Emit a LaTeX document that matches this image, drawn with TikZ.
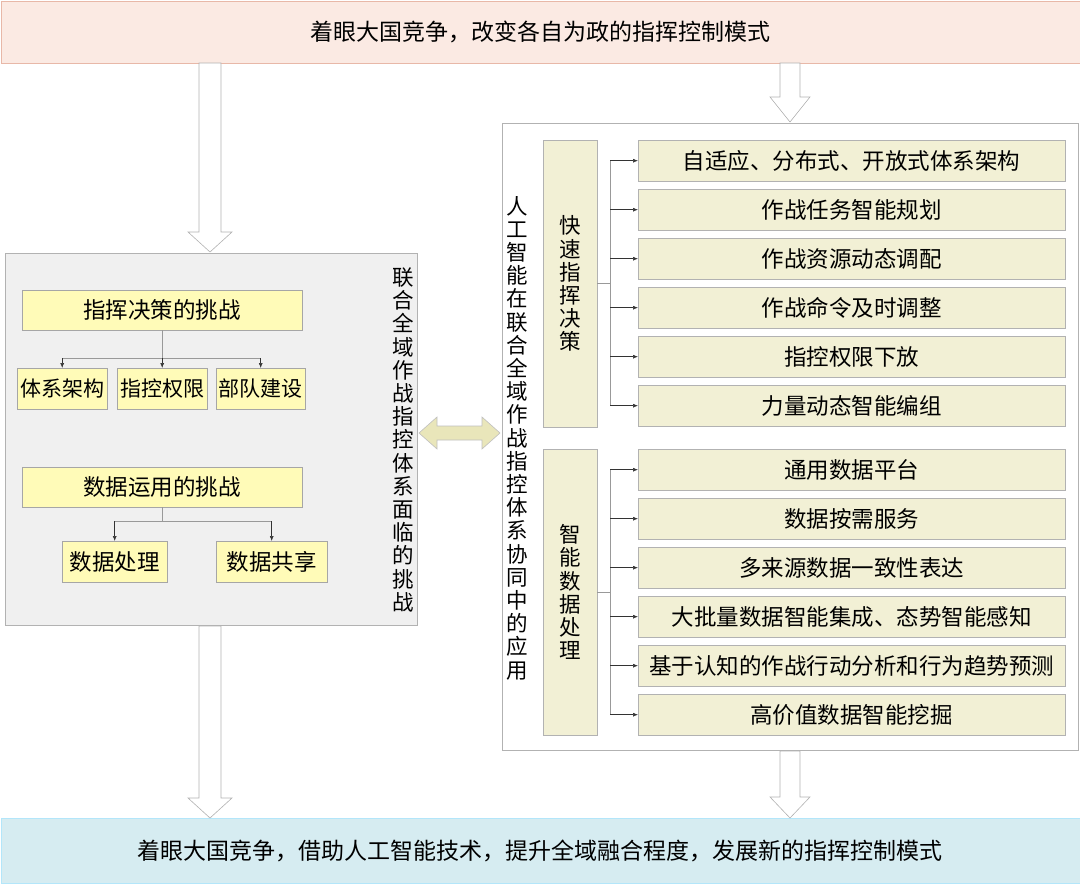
\documentclass[tikz,border=0pt]{standalone}
\usepackage{fontspec}
\setmainfont{Noto Sans CJK SC}
\usetikzlibrary{arrows.meta}
\definecolor{peach}{HTML}{FBEAE3}
\definecolor{peachd}{HTML}{E8B8A8}
\definecolor{lblue}{HTML}{D6ECF1}
\begin{document}
\begin{tikzpicture}[x=1pt,y=-1pt,
  yb/.style={draw=gray!70,fill=yellow!28,font=\fontsize{22.5}{24}\selectfont},
  sb/.style={yb,font=\fontsize{21}{23}\selectfont},
  gb/.style={draw=gray!60,fill=olive!12,font=\fontsize{22.5}{24}\selectfont},
  vt/.style={align=center,font=\fontsize{21.5}{23.2}\selectfont,inner sep=0pt},
  ln/.style={draw=gray!80,line width=0.6pt},
  ar/.style={ln,-{Latex[length=5pt,width=4pt]},draw=black!80},
  hol/.style={draw=gray!60,fill=white,line width=0.6pt}]
\useasboundingbox (0,0) rectangle (1080,884);
% banners
\node[draw=peachd,fill=peach,minimum width=1079pt,minimum height=62pt,anchor=north west,inner sep=0pt,font=\fontsize{23}{25}\selectfont] (top) at (0.5,0.5) {着眼大国竞争，改变各自为政的指挥控制模式};
\node[draw=cyan!30,fill=lblue,minimum width=1079pt,minimum height=65pt,anchor=north west,inner sep=0pt,font=\fontsize{23}{25}\selectfont] (bot) at (0.5,818) {着眼大国竞争，借助人工智能技术，提升全域融合程度，发展新的指挥控制模式};
% hollow arrows
\draw[hol] (199,63)--(221,63)--(221,232)--(232,232)--(210,252)--(188,232)--(199,232)--cycle;
\draw[hol] (780,63)--(800,63)--(800,97)--(810,97)--(790,122)--(770,97)--(780,97)--cycle;
\draw[hol] (199,626)--(221,626)--(221,798)--(232,798)--(210,818)--(188,798)--(199,798)--cycle;
\draw[hol] (780,751)--(800,751)--(800,797)--(810,797)--(790,818)--(770,797)--(780,797)--cycle;
% left panel
\node[draw=gray!60,fill=gray!12,minimum width=412pt,minimum height=372pt,anchor=north west,inner sep=0pt] (lp) at (5,253) {};
\node[vt] (lt) at (403,440) {联\\合\\全\\域\\作\\战\\指\\控\\体\\系\\面\\临\\的\\挑\\战};
\node[yb,minimum width=280pt,minimum height=40pt,anchor=north west,inner sep=0pt] (c1) at (22,290) {指挥决策的挑战};
\node[sb,minimum width=90pt,minimum height=41pt,anchor=north west,inner sep=0pt] (a1) at (17,368) {体系架构};
\node[sb,minimum width=90pt,minimum height=41pt,anchor=north west,inner sep=0pt] (a2) at (117,368) {指控权限};
\node[sb,minimum width=89pt,minimum height=41pt,anchor=north west,inner sep=0pt] (a3) at (216,368) {部队建设};
\draw[ln] (c1.south) -- ++(0,28) coordinate (j1);
\draw[ln] (a1.north |- j1) -- (a3.north |- j1);
\foreach \n in {a1,a2,a3} \draw[ar] (\n.north |- j1) -- (\n.north);
\node[yb,minimum width=280pt,minimum height=40pt,anchor=north west,inner sep=0pt] (c2) at (22,467) {数据运用的挑战};
\node[yb,minimum width=105pt,minimum height=41pt,anchor=north west,inner sep=0pt] (b1) at (62,541) {数据处理};
\node[yb,minimum width=111pt,minimum height=41pt,anchor=north west,inner sep=0pt] (b2) at (216,541) {数据共享};
\draw[ln] (c2.south) -- ++(0,14) coordinate (j2);
\draw[ln] (b1.north |- j2) -- (b2.north |- j2);
\foreach \n in {b1,b2} \draw[ar] (\n.north |- j2) -- (\n.north);
% right panel
\node[draw=gray!60,fill=white,minimum width=576pt,minimum height=627pt,anchor=north west,inner sep=0pt] (rp) at (502,123) {};
\node[vt] (rt) at (517,438) {人\\工\\智\\能\\在\\联\\合\\全\\域\\作\\战\\指\\控\\体\\系\\协\\同\\中\\的\\应\\用};
% double arrow
\draw[draw=gray!50,fill=olive!20,line width=0.6pt] (419,433)--(437,417)--(437,426)--(482,426)--(482,417)--(500,433)--(482,449)--(482,440)--(437,440)--(437,449)--cycle;
\node[gb,minimum width=54pt,minimum height=287pt,anchor=north west,inner sep=0pt,vt] (g1) at (543,140) {快\\速\\指\\挥\\决\\策};
\node[gb,minimum width=54pt,minimum height=286pt,anchor=north west,inner sep=0pt,vt] (g2) at (543,449) {智\\能\\数\\据\\处\\理};
\foreach \t [count=\i] in {自适应、分布式、开放式体系架构,作战任务智能规划,作战资源动态调配,作战命令及时调整,指控权限下放,力量动态智能编组}
  \node[gb,minimum width=427pt,minimum height=41pt,anchor=north west,inner sep=0pt] (p\i) at (638,{140+49*(\i-1)}) {\t};
\foreach \t [count=\i] in {通用数据平台,数据按需服务,多来源数据一致性表达,大批量数据智能集成、态势智能感知,基于认知的作战行动分析和行为趋势预测,高价值数据智能挖掘}
  \node[gb,minimum width=427pt,minimum height=41pt,anchor=north west,inner sep=0pt] (q\i) at (638,{449+49*(\i-1)}) {\t};
\draw[ln] (g1.east) -- ++(13,0) coordinate (k1);
\draw[ln] (k1 |- p1.west) -- (k1 |- p6.west);
\foreach \i in {1,...,6} \draw[ar] (k1 |- p\i.west) -- (p\i.west);
\draw[ln] (g2.east) -- ++(13,0) coordinate (k2);
\draw[ln] (k2 |- q1.west) -- (k2 |- q6.west);
\foreach \i in {1,...,6} \draw[ar] (k2 |- q\i.west) -- (q\i.west);
\end{tikzpicture}
\end{document}
